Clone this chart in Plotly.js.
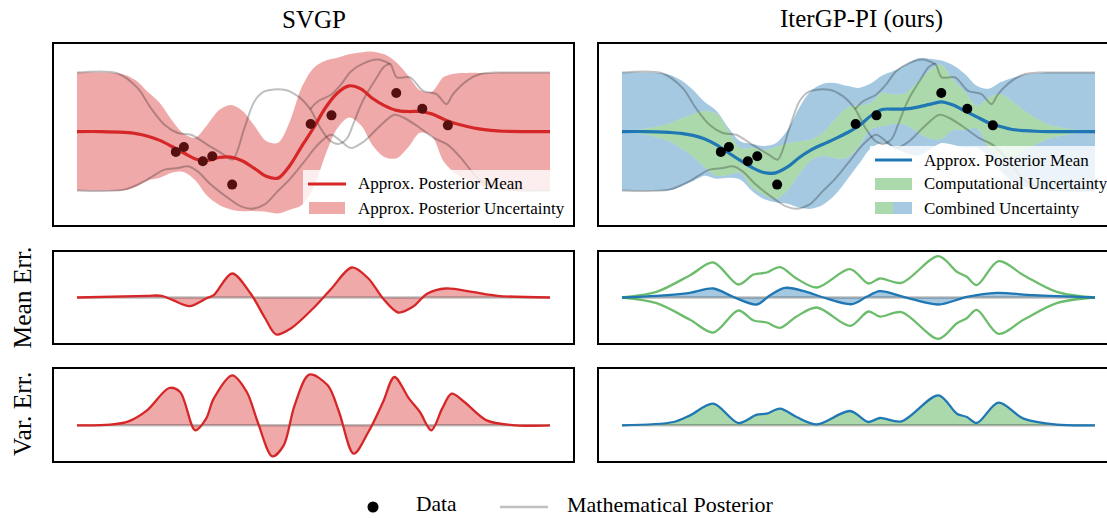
<!DOCTYPE html>
<html><head><meta charset="utf-8">
<script src="https://cdn.plot.ly/plotly-3.0.1.min.js"></script>
<style>html,body{margin:0;padding:0;overflow:hidden;background:#fff;} #chart{width:1130px;height:518px;}</style>
</head><body><div id="chart"></div>
<script>
// ---------------- data ----------------
const gridX = [0, 0.5, 1, 1.25, 1.5, 1.75, 2, 2.25, 2.5, 2.75, 3, 3.25, 3.5, 3.75, 4, 4.25, 4.5, 4.75, 5, 5.25, 5.5, 5.75, 6, 6.25, 6.5, 6.75, 7, 7.25, 7.5, 7.75, 8, 8.25, 8.5, 8.75, 9, 9.5, 10];

const svgpMean = [0, 0, -0.03, -0.07, -0.16, -0.3, -0.5, -0.72, -0.93, -0.98, -0.88, -0.87, -1.0, -1.25, -1.52, -1.58, -1.15, -0.5, 0.12, 0.8, 1.3, 1.55, 1.45, 1.12, 0.88, 0.72, 0.68, 0.68, 0.6, 0.42, 0.27, 0.17, 0.09, 0.04, 0.01, 0, 0];
const svgpTwoSigma = [2.0, 2.0, 1.96, 1.8, 1.5, 1.27, 0.9, 0.65, 0.72, 1.2, 1.6, 1.77, 1.7, 1.45, 1.2, 1.2, 1.5, 2.0, 2.03, 1.6, 1.2, 1.07, 1.23, 1.59, 1.74, 1.63, 1.22, 0.72, 0.75, 1.43, 1.7, 1.82, 1.9, 1.95, 1.99, 2.0, 2.0];

const iterMean = [0, 0, -0.03, -0.06, -0.13, -0.25, -0.45, -0.72, -0.98, -1.22, -1.39, -1.4, -1.2, -0.88, -0.62, -0.43, -0.25, -0.05, 0.18, 0.52, 0.75, 0.76, 0.77, 0.83, 0.92, 1.01, 0.9, 0.7, 0.5, 0.3, 0.17, 0.07, 0.03, 0.01, 0, 0, 0];
const iterCompTwoSigma = [0, 0.1, 0.3, 0.5, 0.72, 0.95, 1.05, 0.75, 0.42, 0.68, 0.75, 0.88, 0.8, 0.55, 0.35, 0.4, 0.65, 0.85, 0.7, 0.45, 0.57, 0.5, 0.55, 0.85, 1.15, 1.26, 0.85, 0.65, 0.38, 0.85, 1.1, 0.95, 0.68, 0.45, 0.25, 0.08, 0];
const iterCombinedTwoSigma = [2.0, 2.0, 1.96, 1.8, 1.55, 1.25, 1.15, 0.85, 0.65, 0.8, 0.9, 1.0, 1.25, 1.7, 2.0, 2.05, 1.9, 1.6, 1.3, 1.1, 1.15, 1.3, 1.5, 1.65, 1.55, 1.4, 1.35, 1.25, 1.05, 1.15, 1.5, 1.75, 1.9, 1.96, 2.0, 2.0, 2.0];

const dataX = [2.09, 2.26, 2.66, 2.86, 3.28, 4.94, 5.38, 6.75, 7.30, 7.84];
const dataY = [-0.69, -0.525, -1.01, -0.84, -1.80, 0.255, 0.55, 1.305, 0.775, 0.21];

const mathUpperX = [0, 0.85, 1.28, 1.56, 1.85, 2.13, 2.41, 2.76, 3.11, 3.29, 3.54, 3.75, 3.96, 4.38, 4.67, 4.93, 5.14, 5.35, 5.53, 5.70, 5.84, 5.98, 6.12, 6.34, 6.48, 6.62, 6.76, 7.04, 7.32, 7.60, 7.81, 7.95, 8.24, 8.52, 8.8, 9.3, 10];
const mathUpperY = [2.0, 1.98, 1.48, 0.80, 0.23, -0.05, -0.11, -0.45, -0.79, -0.95, 0.12, 1.02, 1.36, 1.42, 1.2, 0.76, 0.14, -0.31, -0.42, -0.25, 0.25, 0.82, 1.27, 1.84, 2.18, 2.29, 1.84, 1.84, 1.38, 1.27, 0.93, 1.27, 1.72, 1.95, 2.0, 2.0, 2.0];
const mathUpperAltX = [4.93, 5.09, 5.37, 5.58, 5.79, 6.07, 6.36, 6.62];
const mathUpperAltY = [0.76, 1.02, 1.25, 1.59, 2.04, 2.32, 2.44, 2.29];
const mathLowerX = [0, 1, 1.42, 1.85, 2.13, 2.34, 2.55, 2.83, 3.19, 3.47, 3.68, 3.96, 4.24, 4.52, 4.81, 5.09, 5.37, 5.58, 5.79, 6.07, 6.36, 6.71, 6.92, 7.2, 7.55, 7.84, 8.12, 8.47, 8.82, 9.32, 10];
const mathLowerY = [-2.0, -1.97, -1.69, -1.29, -1.24, -1.18, -1.35, -1.8, -2.25, -2.54, -2.62, -2.48, -2.03, -1.58, -1.01, -0.45, -0.11, -0.33, -0.56, -0.33, 0.12, 0.57, 0.46, 0.18, -0.22, -0.45, -0.9, -1.58, -1.91, -2.0, -2.0];

const zeroX = [0, 10];
const zeroY = [0, 0];

const svgpMeanErrX = [0, 1.48, 1.79, 2.03, 2.38, 2.73, 2.89, 3.28, 3.67, 3.98, 4.21, 4.52, 4.99, 5.38, 5.81, 6.16, 6.47, 6.79, 7.10, 7.41, 7.80, 8.35, 8.89, 10];
const svgpMeanErrY = [0, 0.05, 0.05, -0.08, -0.26, -0.03, 0.07, 0.72, 0.12, -0.63, -1.11, -0.93, -0.33, 0.27, 0.90, 0.57, -0.03, -0.45, -0.28, 0.12, 0.27, 0.17, 0.05, 0];

const svgpVarErrX = [0, 0.7, 1.09, 1.48, 1.95, 2.18, 2.5, 2.73, 2.89, 3.28, 3.59, 3.82, 4.13, 4.37, 4.6, 4.91, 5.3, 5.54, 5.85, 6.16, 6.47, 6.71, 7.02, 7.25, 7.49, 7.72, 7.92, 8.19, 8.66, 9.28, 10];
const svgpVarErrY = [0, 0.02, 0.12, 0.45, 1.12, 1.0, -0.15, 0.2, 0.8, 1.5, 1.0, 0.1, -0.93, -0.6, 0.6, 1.52, 1.2, 0.4, -0.85, -0.2, 0.7, 1.45, 0.8, 0.4, -0.15, 0.5, 0.95, 0.7, 0.15, 0, 0];

const iterMeanErrX = [0, 0.73, 1.44, 1.93, 2.35, 2.85, 3.13, 3.45, 3.90, 4.26, 4.86, 5.17, 5.45, 5.95, 6.69, 7.29, 7.92, 8.70, 10];
const iterMeanErrY = [0, 0.05, 0.14, 0.27, 0.02, -0.21, 0.07, 0.29, 0.17, 0, -0.20, 0.02, 0.19, 0.02, -0.21, 0.02, 0.14, 0.07, 0];

const iterCompErrX = [0, 0.73, 1.44, 1.93, 2.46, 2.78, 3.06, 3.34, 3.69, 4.12, 4.82, 5.21, 5.45, 5.91, 6.69, 7.08, 7.29, 7.50, 7.96, 8.49, 9.19, 10];
const iterCompErrY = [0, 0.17, 0.67, 1.05, 0.39, 0.69, 0.75, 0.91, 0.57, 0.30, 0.85, 0.42, 0.57, 0.44, 1.24, 0.77, 0.62, 0.37, 1.09, 0.67, 0.17, 0];

const iterVarErrX = [0, 1.09, 1.44, 1.93, 2.46, 2.85, 3.06, 3.34, 3.69, 4.12, 4.82, 5.21, 5.45, 5.91, 6.69, 7.08, 7.29, 7.50, 7.96, 8.49, 9.19, 10];
const iterVarErrY = [0, 0.10, 0.30, 0.65, 0.07, 0.32, 0.35, 0.50, 0.25, 0.03, 0.43, 0.10, 0.22, 0.12, 0.90, 0.35, 0.25, 0.07, 0.68, 0.20, 0.02, 0];

const colTitles = ['SVGP', 'IterGP-PI (ours)'];
const rowLabels = ['Mean Err.', 'Var. Err.'];

// ---------------- styling ----------------
const RED = '#d62728', RED_F = 'rgba(214,39,40,0.4)';
const BLUE = '#1f77b4', BLUE_F = 'rgba(31,119,180,0.4)';
const GREEN_F = 'rgba(44,160,44,0.4)', GREEN_L = 'rgba(44,160,44,0.7)';
const GRAY = 'rgba(0,0,0,0.25)';
const FONT = 'Liberation Serif, Times New Roman, serif';
const W = 1130, H = 518;
const PX = p => p / W, PY = p => 1 - p / H;

const sub = (a, b) => a.map((v, i) => v - b[i]);
const add = (a, b) => a.map((v, i) => v + b[i]);
const neg = a => a.map(v => -v);

function tr(x, y, ax, opts) {
  return Object.assign({x: x, y: y, xaxis: 'x' + ax, yaxis: 'y' + ax, mode: 'lines', showlegend: false, hoverinfo: 'skip'}, opts);
}
function ln(color, width) { return {color: color, width: width, shape: 'spline', smoothing: 0.9}; }

const traces = [];
// top left: SVGP
traces.push(tr(gridX, sub(svgpMean, svgpTwoSigma), '', {line: ln('rgba(0,0,0,0)', 0)}));
traces.push(tr(gridX, add(svgpMean, svgpTwoSigma), '', {line: ln('rgba(0,0,0,0)', 0), fill: 'tonexty', fillcolor: RED_F}));
traces.push(tr(mathUpperX, mathUpperY, '', {line: ln(GRAY, 2)}));
traces.push(tr(mathUpperAltX, mathUpperAltY, '', {line: ln(GRAY, 2)}));
traces.push(tr(mathLowerX, mathLowerY, '', {line: ln(GRAY, 2)}));
traces.push(tr(gridX, svgpMean, '', {line: ln(RED, 3.2)}));
traces.push(tr(dataX, dataY, '', {mode: 'markers', marker: {color: 'rgb(86,16,16)', size: 10}}));

// top right: IterGP
traces.push(tr(gridX, sub(iterMean, iterCombinedTwoSigma), '2', {line: ln('rgba(0,0,0,0)', 0)}));
traces.push(tr(gridX, sub(iterMean, iterCompTwoSigma), '2', {line: ln('rgba(0,0,0,0)', 0), fill: 'tonexty', fillcolor: BLUE_F}));
traces.push(tr(gridX, add(iterMean, iterCompTwoSigma), '2', {line: ln('rgba(0,0,0,0)', 0), fill: 'tonexty', fillcolor: GREEN_F}));
traces.push(tr(gridX, add(iterMean, iterCombinedTwoSigma), '2', {line: ln('rgba(0,0,0,0)', 0), fill: 'tonexty', fillcolor: BLUE_F}));
traces.push(tr(mathUpperX, mathUpperY, '2', {line: ln(GRAY, 2)}));
traces.push(tr(mathUpperAltX, mathUpperAltY, '2', {line: ln(GRAY, 2)}));
traces.push(tr(mathLowerX, mathLowerY, '2', {line: ln(GRAY, 2)}));
traces.push(tr(gridX, iterMean, '2', {line: ln(BLUE, 3.2)}));
traces.push(tr(dataX, dataY, '2', {mode: 'markers', marker: {color: '#000', size: 10}}));

// middle left: SVGP mean error
traces.push(tr(svgpMeanErrX, svgpMeanErrY, '3', {line: ln('rgba(0,0,0,0)', 0), fill: 'tozeroy', fillcolor: RED_F}));
traces.push(tr(zeroX, zeroY, '3', {line: {color: GRAY, width: 2.5}}));
traces.push(tr(svgpMeanErrX, svgpMeanErrY, '3', {line: ln(RED, 2.3)}));

// middle right: IterGP mean error
traces.push(tr(iterMeanErrX, iterMeanErrY, '4', {line: ln('rgba(0,0,0,0)', 0), fill: 'tozeroy', fillcolor: BLUE_F}));
traces.push(tr(zeroX, zeroY, '4', {line: {color: GRAY, width: 2.5}}));
traces.push(tr(iterCompErrX, iterCompErrY, '4', {line: ln(GREEN_L, 2.3)}));
traces.push(tr(iterCompErrX, neg(iterCompErrY), '4', {line: ln(GREEN_L, 2.3)}));
traces.push(tr(iterMeanErrX, iterMeanErrY, '4', {line: ln(BLUE, 2.3)}));

// bottom left: SVGP variance error
traces.push(tr(svgpVarErrX, svgpVarErrY, '5', {line: ln('rgba(0,0,0,0)', 0), fill: 'tozeroy', fillcolor: RED_F}));
traces.push(tr(zeroX, zeroY, '5', {line: {color: GRAY, width: 2.5}}));
traces.push(tr(svgpVarErrX, svgpVarErrY, '5', {line: ln(RED, 2.3)}));

// bottom right: IterGP variance error
traces.push(tr(iterVarErrX, iterVarErrY, '6', {line: ln('rgba(0,0,0,0)', 0), fill: 'tozeroy', fillcolor: GREEN_F}));
traces.push(tr(zeroX, zeroY, '6', {line: {color: GRAY, width: 2.5}}));
traces.push(tr(iterVarErrX, iterVarErrY, '6', {line: ln(BLUE, 2.3)}));

// ---------------- layout ----------------
const axBase = {showline: true, mirror: true, linecolor: '#000', linewidth: 2, showticklabels: false, ticks: '', showgrid: false, zeroline: false, fixedrange: true};
const colDom = [[PX(54), PX(573)], [PX(599), PX(1118)]];
const rowDom = [[PY(225), PY(44)], [PY(343), PY(252)], [PY(461), PY(369)]];
const rowRange = [[-3.17, 2.97], [-1.365, 1.365], [-1.07, 1.69]];
const layout = {width: W, height: H, margin: {l: 0, r: 0, t: 0, b: 0}, paper_bgcolor: '#fff', plot_bgcolor: 'rgba(0,0,0,0)', showlegend: false, font: {family: FONT, color: '#000'}};
for (let r = 0; r < 3; r++) {
  for (let c = 0; c < 2; c++) {
    const k = r * 2 + c + 1;
    const s = k === 1 ? '' : String(k);
    layout['xaxis' + s] = Object.assign({}, axBase, {domain: colDom[c], range: [-0.486, 10.486], anchor: 'y' + s});
    layout['yaxis' + s] = Object.assign({}, axBase, {domain: rowDom[r], range: rowRange[r], anchor: 'x' + s});
  }
}

const shapes = [];
const ann = [];
function rect(x0, x1, y0, y1, fill) { shapes.push({type: 'rect', xref: 'paper', yref: 'paper', x0: PX(x0), x1: PX(x1), y0: PY(y1), y1: PY(y0), fillcolor: fill, line: {width: 0}, layer: 'above'}); }
function hline(x0, x1, y, color, w) { shapes.push({type: 'line', xref: 'paper', yref: 'paper', x0: PX(x0), x1: PX(x1), y0: PY(y), y1: PY(y), line: {color: color, width: w}, layer: 'above'}); }
function text(t, x, y, size, opts) { ann.push(Object.assign({text: t, xref: 'paper', yref: 'paper', x: PX(x), y: PY(y), xanchor: 'left', yanchor: 'middle', showarrow: false, borderpad: 0, font: {family: FONT, size: size, color: '#000'}}, opts || {})); }

// left in-panel legend
rect(303, 572, 170, 221, 'rgba(255,255,255,0.8)');
hline(308, 346, 184, RED, 3.2);
rect(309, 345, 202, 214, RED_F);
text('Approx. Posterior Mean', 357, 184, 17);
text('Approx. Posterior Uncertainty', 357, 208, 17);
// right in-panel legend
rect(870, 1125, 146, 221, 'rgba(255,255,255,0.8)');
hline(875, 912, 160, BLUE, 3.2);
rect(875, 912, 178, 190, GREEN_F);
rect(875, 893, 202, 214, GREEN_F);
rect(893, 912, 202, 214, BLUE_F);
text('Approx. Posterior Mean', 923, 160, 17);
text('Computational Uncertainty', 923, 184, 16.8);
text('Combined Uncertainty', 923, 208, 17);
// bottom legend
shapes.push({type: 'circle', xref: 'paper', yref: 'paper', x0: PX(367.5), x1: PX(378.5), y0: PY(512.5), y1: PY(501.5), fillcolor: '#000', line: {width: 0}, layer: 'above'});
text('Data', 415, 504, 21.5);
hline(500, 548, 507, GRAY, 2.5);
text('Mathematical Posterior', 566, 504, 22);
// titles and row labels
text(colTitles[0], 313.5, 19, 25, {xanchor: 'center'});
text(colTitles[1], 861, 19, 25, {xanchor: 'center'});
text(rowLabels[0], 22, 297.5, 25.5, {xanchor: 'center', textangle: -90});
text(rowLabels[1], 22, 414, 25.5, {xanchor: 'center', textangle: -90});

layout.shapes = shapes;
layout.annotations = ann;

Plotly.newPlot('chart', traces, layout, {staticPlot: true, displayModeBar: false});
</script>
</body></html>
